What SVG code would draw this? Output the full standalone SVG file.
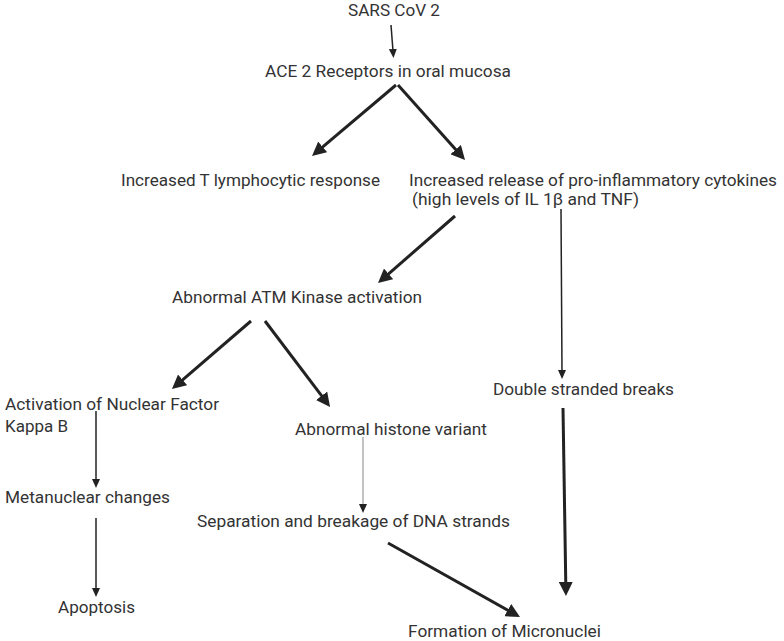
<svg xmlns="http://www.w3.org/2000/svg" width="784" height="641" viewBox="0 0 784 641">
<style>
text{font-family:Roboto,"Liberation Sans",sans-serif;font-size:17px;fill:#333;}
.thick{stroke:#222;stroke-width:3;fill:none;marker-end:url(#big);}
.thin{stroke:#222;stroke-width:1.5;fill:none;marker-end:url(#small);}
.gray{stroke:#888;stroke-width:1;fill:none;marker-end:url(#small);}
</style>
<defs>
<marker id="big" markerUnits="userSpaceOnUse" markerWidth="14" markerHeight="14" refX="3" refY="7" orient="auto">
<path d="M0,0 L14,7 L0,14 z" fill="#222"/>
</marker>
<marker id="small" markerUnits="userSpaceOnUse" markerWidth="9" markerHeight="8" refX="2" refY="4" orient="auto">
<path d="M0,0 L9,4 L0,8 z" fill="#222"/>
</marker>
</defs>
<rect width="784" height="641" fill="#fff"/>
<g id="connectors">
<line class="thin" x1="391" y1="25" x2="393" y2="51"/>
<line class="thick" x1="396" y1="85" x2="320.4" y2="148.9"/>
<line class="thick" x1="398" y1="85" x2="457.7" y2="151.8"/>
<line class="thick" x1="455" y1="216" x2="386.3" y2="275.8"/>
<line class="thin" x1="561" y1="209" x2="562" y2="372"/>
<line class="thick" x1="251" y1="321" x2="180.3" y2="381.8"/>
<line class="thick" x1="265" y1="321" x2="323.4" y2="398.2"/>
<line class="thin" x1="96" y1="411" x2="96" y2="481"/>
<line class="thin" x1="96" y1="518" x2="96" y2="590"/>
<line class="gray" x1="363" y1="437" x2="363" y2="506"/>
<line class="thick" x1="388" y1="543" x2="510.4" y2="611.6"/>
<line class="thick" x1="563" y1="408" x2="565.8" y2="585"/>
</g>
<g id="n-sars"><text x="348" y="16" font-size="16" textLength="92" lengthAdjust="spacingAndGlyphs">SARS CoV 2</text></g>
<g id="n-ace"><text x="265" y="77" textLength="246" lengthAdjust="spacingAndGlyphs">ACE 2 Receptors in oral mucosa</text></g>
<g id="n-tlymph"><text x="121" y="186" textLength="259" lengthAdjust="spacingAndGlyphs">Increased T lymphocytic response</text></g>
<g id="n-cytokines">
<text x="409" y="186" textLength="368" lengthAdjust="spacingAndGlyphs">Increased release of pro-inflammatory cytokines</text>
<text x="412" y="205" textLength="227" lengthAdjust="spacingAndGlyphs">(high levels of IL 1β and TNF)</text>
</g>
<g id="n-atm"><text x="172" y="303" textLength="250" lengthAdjust="spacingAndGlyphs">Abnormal ATM Kinase activation</text></g>
<g id="n-nfkb">
<text x="5" y="410" textLength="214" lengthAdjust="spacingAndGlyphs">Activation of Nuclear Factor</text>
<text x="5" y="432" textLength="63" lengthAdjust="spacingAndGlyphs">Kappa B</text>
</g>
<g id="n-histone"><text x="295" y="435" textLength="192" lengthAdjust="spacingAndGlyphs">Abnormal histone variant</text></g>
<g id="n-dsb"><text x="493" y="395" textLength="181" lengthAdjust="spacingAndGlyphs">Double stranded breaks</text></g>
<g id="n-metanuclear"><text x="5" y="503" textLength="165" lengthAdjust="spacingAndGlyphs">Metanuclear changes</text></g>
<g id="n-separation"><text x="197" y="527" textLength="313" lengthAdjust="spacingAndGlyphs">Separation and breakage of DNA strands</text></g>
<g id="n-apoptosis"><text x="58" y="613" textLength="77" lengthAdjust="spacingAndGlyphs">Apoptosis</text></g>
<g id="n-micronuclei"><text x="408" y="637" textLength="193" lengthAdjust="spacingAndGlyphs">Formation of Micronuclei</text></g>
</svg>
